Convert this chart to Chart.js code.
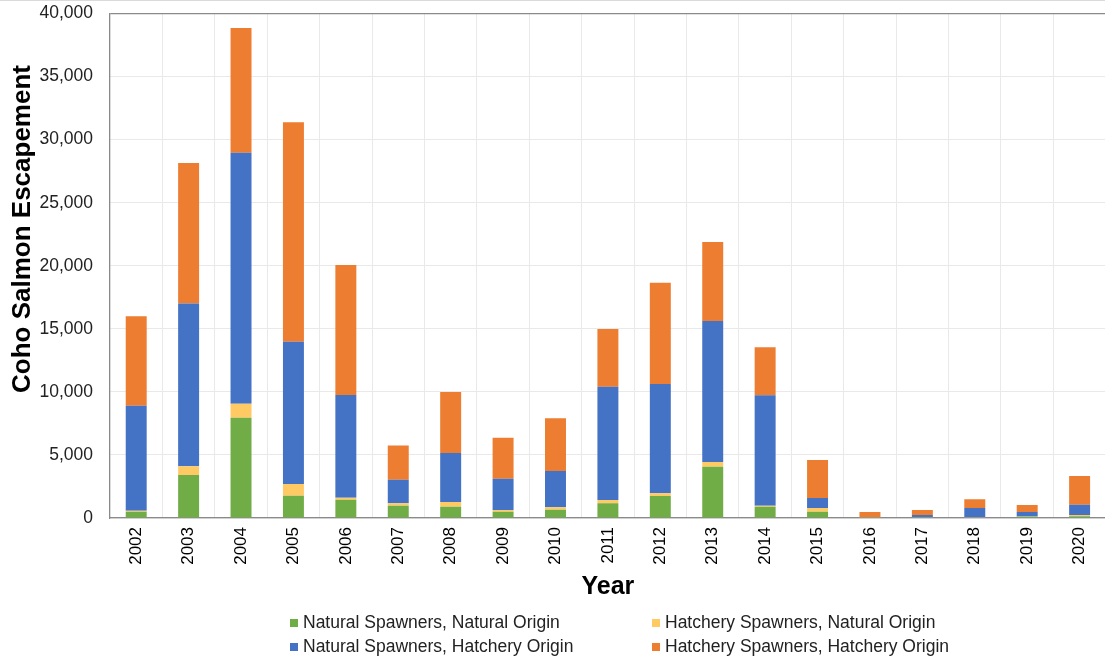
<!DOCTYPE html>
<html>
<head>
<meta charset="utf-8">
<script src="https://cdn.jsdelivr.net/npm/chart.js@4/dist/chart.umd.min.js"></script>
<style>
  html, body { margin: 0; padding: 0; background: #fff; }
  #wrap { position: relative; width: 1105px; height: 657px; overflow: hidden; font-family: "Liberation Sans", Arial, sans-serif; }
  #topline { position: absolute; left: 0; top: 0; width: 1105px; height: 1px; background: #dadada; }
  canvas { position: absolute; left: 0; top: -14px; }
  .lg { position: absolute; font-size: 17.5px; line-height: 20px; color: #222; white-space: nowrap; }
  .lg i { position: absolute; width: 8px; height: 8px; left: -13px; top: 7px; }
</style>
</head>
<body>
<div id="wrap">
  <canvas id="c" width="1109" height="671"></canvas>
  <div id="topline"></div>
  <div id="legend"></div>
</div>
<script>
const years = ["2002","2003","2004","2005","2006","2007","2008","2009","2010","2011","2012","2013","2014","2015","2016","2017","2018","2019","2020"];
const naturalSpawnersNaturalOrigin   = [500,3400,7950,1770,1450,980,900,500,660,1160,1750,4070,900,500,10,20,40,100,130];
const hatcherySpawnersNaturalOrigin  = [80,700,1100,930,150,180,370,130,190,270,210,370,80,290,30,10,10,10,110];
const naturalSpawnersHatcheryOrigin  = [8320,12900,19900,11280,8150,1880,3880,2490,2880,8980,8665,11180,8750,800,10,210,740,365,820];
const hatcherySpawnersHatcheryOrigin = [7100,11150,9900,17400,10310,2700,4840,3250,4170,4580,8035,6265,3810,3010,430,395,690,555,2270];
const yTicks = [0,5000,10000,15000,20000,25000,30000,35000,40000];
const seriesNames = ["Natural Spawners, Natural Origin","Hatchery Spawners, Natural Origin","Natural Spawners, Hatchery Origin","Hatchery Spawners, Hatchery Origin"];
const seriesColors = ["#70AD47","#FFCA64","#4472C4","#ED7D31"];
const yTitle = "Coho Salmon Escapement";
const xTitle = "Year";

const FONT = '"Liberation Sans", Arial, sans-serif';
const CANVAS_SHIFT = 14;

const yTitlePlugin = {
  id: 'yTitle',
  afterDraw(chart) {
    const ctx = chart.ctx;
    ctx.save();
    ctx.translate(23, 229 + CANVAS_SHIFT);
    ctx.rotate(-Math.PI / 2);
    ctx.font = 'bold 26px ' + FONT;
    ctx.fillStyle = '#000';
    ctx.textAlign = 'center';
    ctx.textBaseline = 'middle';
    ctx.fillText(yTitle, 0, 0);
    ctx.restore();
  }
};

const datasets = [naturalSpawnersNaturalOrigin, hatcherySpawnersNaturalOrigin, naturalSpawnersHatcheryOrigin, hatcherySpawnersHatcheryOrigin].map((d, i) => ({
  label: seriesNames[i],
  data: d,
  backgroundColor: seriesColors[i],
  borderWidth: 0,
  barPercentage: 0.4,
  categoryPercentage: 1.0,
  stack: 's'
}));

new Chart(document.getElementById('c'), {
  type: 'bar',
  data: { labels: years, datasets },
  options: {
    responsive: false,
    animation: false,
    devicePixelRatio: 1,
    layout: { padding: 0 },
    plugins: { legend: { display: false }, tooltip: { enabled: false } },
    scales: {
      x: {
        stacked: true,
        grid: { color: '#e9e9e9', lineWidth: 1, drawTicks: false, offset: true },
        border: { color: '#8a8a8a', width: 1.3 },
        ticks: { color: '#000', font: { family: FONT, size: 17 }, minRotation: 90, maxRotation: 90, padding: 9, autoSkip: false },
        title: { display: true, text: xTitle, color: '#000', font: { family: FONT, size: 25, weight: 'bold' }, padding: { top: 0, bottom: 55 } },
        afterFit(scale) { scale.height = 657 - 518; }
      },
      y: {
        stacked: true,
        min: 0, max: 40000,
        afterBuildTicks(scale) { scale.ticks = yTicks.map(v => ({ value: v })); },
        grid: {
          color: (c) => (c.tick && c.tick.value === 40000) ? '#8a8a8a' : '#e9e9e9',
          lineWidth: (c) => (c.tick && c.tick.value === 40000) ? 1.3 : 1,
          drawTicks: false
        },
        border: { color: '#8a8a8a', width: 1.3 },
        ticks: { color: '#222', font: { family: FONT, size: 17.5 }, padding: 17,
          callback: (v) => Number(v).toLocaleString('en-US') },
        afterFit(scale) { scale.width = 110; }
      }
    }
  },
  plugins: [yTitlePlugin]
});

// legend (HTML text)
const legendPos = [[303, 612], [665, 612], [303, 636], [665, 636]];
const lg = document.getElementById('legend');
seriesNames.forEach((n, i) => {
  const d = document.createElement('div');
  d.className = 'lg';
  d.style.left = legendPos[i][0] + 'px';
  d.style.top = legendPos[i][1] + 'px';
  const sw = document.createElement('i');
  sw.style.background = seriesColors[i];
  d.appendChild(sw);
  d.appendChild(document.createTextNode(n));
  lg.appendChild(d);
});
</script>
</body>
</html>
